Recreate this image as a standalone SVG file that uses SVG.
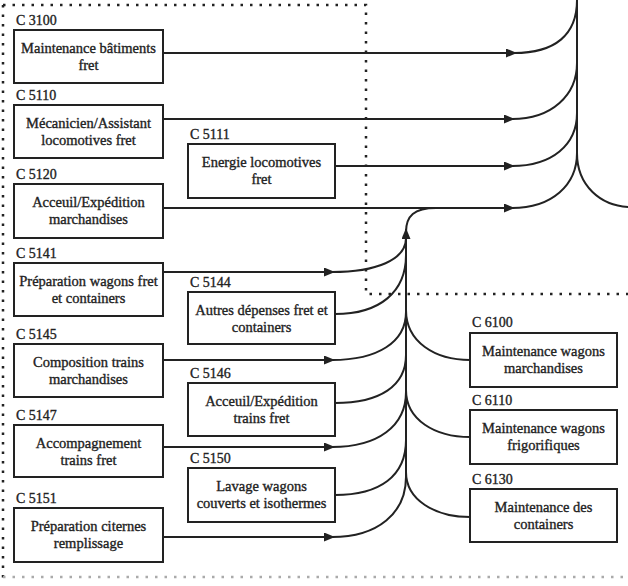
<svg xmlns="http://www.w3.org/2000/svg" width="628" height="586" viewBox="0 0 628 586">
<style>
.box{fill:#fff;stroke:#222;stroke-width:2}
.t{font-family:"Liberation Serif",serif;font-size:14.5px;fill:#222;stroke:#222;stroke-width:0.35;text-anchor:middle}
.lb{font-family:"Liberation Serif",serif;font-size:14px;fill:#222;stroke:#222;stroke-width:0.35}
.c{fill:none;stroke:#222;stroke-width:2}
.a{fill:none;stroke:#222;stroke-width:2;marker-end:url(#ah)}
.d{fill:none;stroke:#222;stroke-width:2.5;stroke-dasharray:2.5 7}
</style>
<defs>
<marker id="ah" markerUnits="userSpaceOnUse" markerWidth="11" markerHeight="9" refX="10" refY="4.5" orient="auto">
<path d="M0,0 L11,4.5 L0,9 z" fill="#222"/>
</marker>
</defs>
<rect width="628" height="586" fill="#fff"/>
<g id="boundary">
<path class="d" d="M3 5 L366 5 L366 294 L628 294"/>
<path class="d" d="M3 5 L3 580"/>
<path class="d" d="M3 577 L628 577" style="stroke:#aaa"/>
</g>
<g id="connectors">
<line class="a" x1="163" y1="53" x2="516" y2="53"/>
<line class="a" x1="163" y1="119" x2="514" y2="119"/>
<line class="a" x1="335" y1="166" x2="514" y2="166"/>
<line class="a" x1="163" y1="208" x2="514" y2="208"/>
<path class="c" d="M514 53 C555 53 577 35 577 0"/>
<path class="c" d="M512 119 C552 119 577 95 577 63"/>
<path class="c" d="M512 166 C552 166 577 145 577 113"/>
<path class="c" d="M512 208 C552 208 577 185 577 153"/>
<path class="c" d="M577 0 L577 153 C577 185 600 207 632 207"/>
<path class="c" d="M406 477 L406 232 C406 216 414 208 436 208"/>
<path class="a" d="M406 246 L406 229"/>
<line class="a" x1="163" y1="272" x2="334" y2="272"/>
<path class="c" d="M332 272 C376 272 406 260 406 238"/>
<path class="c" d="M335 314 C380 314 406 292 406 255"/>
<line class="a" x1="163" y1="360" x2="334" y2="360"/>
<path class="c" d="M332 360 C378 360 406 342 406 312"/>
<path class="c" d="M335 403 C380 403 406 386 406 355"/>
<line class="a" x1="163" y1="447" x2="334" y2="447"/>
<path class="c" d="M332 447 C378 447 406 426 406 392"/>
<path class="c" d="M335 495 C380 495 406 476 406 440"/>
<line class="a" x1="163" y1="537" x2="334" y2="537"/>
<path class="c" d="M332 537 C378 537 406 513 406 477"/>
<path class="c" d="M406 310 C406 342 435 360 470 360"/>
<path class="c" d="M406 390 C406 420 435 437 470 437"/>
<path class="c" d="M406 472 C406 500 435 517 470 517"/>
</g>
<g id="C3100"><text class="lb" x="16" y="25">C 3100</text><rect class="box" x="14" y="30" width="149" height="53"/><text class="t" x="88.5" y="53">Maintenance bâtiments</text><text class="t" x="88.5" y="70">fret</text></g>
<g id="C5110"><text class="lb" x="16" y="100">C 5110</text><rect class="box" x="14" y="105" width="149" height="53"/><text class="t" x="88.5" y="128">Mécanicien/Assistant</text><text class="t" x="88.5" y="145">locomotives fret</text></g>
<g id="C5120"><text class="lb" x="16" y="179">C 5120</text><rect class="box" x="14" y="184" width="149" height="54"/><text class="t" x="88.5" y="207">Acceuil/Expédition</text><text class="t" x="88.5" y="224">marchandises</text></g>
<g id="C5141"><text class="lb" x="16" y="258">C 5141</text><rect class="box" x="14" y="263" width="149" height="53"/><text class="t" x="88.5" y="286">Préparation wagons fret</text><text class="t" x="88.5" y="303">et containers</text></g>
<g id="C5145"><text class="lb" x="16" y="339">C 5145</text><rect class="box" x="14" y="344" width="149" height="53"/><text class="t" x="88.5" y="367">Composition trains</text><text class="t" x="88.5" y="384">marchandises</text></g>
<g id="C5147"><text class="lb" x="16" y="420">C 5147</text><rect class="box" x="14" y="425" width="149" height="52"/><text class="t" x="88.5" y="448">Accompagnement</text><text class="t" x="88.5" y="465">trains fret</text></g>
<g id="C5151"><text class="lb" x="16" y="503">C 5151</text><rect class="box" x="14" y="508" width="149" height="54"/><text class="t" x="88.5" y="531">Préparation citernes</text><text class="t" x="88.5" y="548">remplissage</text></g>
<g id="C5111"><text class="lb" x="190" y="139">C 5111</text><rect class="box" x="188" y="144" width="147" height="54"/><text class="t" x="261.5" y="167">Energie locomotives</text><text class="t" x="261.5" y="184">fret</text></g>
<g id="C5144"><text class="lb" x="190" y="287">C 5144</text><rect class="box" x="188" y="292" width="147" height="52"/><text class="t" x="261.5" y="315">Autres dépenses fret et</text><text class="t" x="261.5" y="332">containers</text></g>
<g id="C5146"><text class="lb" x="190" y="378">C 5146</text><rect class="box" x="188" y="383" width="147" height="53"/><text class="t" x="261.5" y="406">Acceuil/Expédition</text><text class="t" x="261.5" y="423">trains fret</text></g>
<g id="C5150"><text class="lb" x="190" y="463">C 5150</text><rect class="box" x="188" y="468" width="147" height="54"/><text class="t" x="261.5" y="491">Lavage wagons</text><text class="t" x="261.5" y="508">couverts et isothermes</text></g>
<g id="C6100"><text class="lb" x="472" y="327">C 6100</text><rect class="box" x="470" y="333" width="147" height="54"/><text class="t" x="543.5" y="356">Maintenance wagons</text><text class="t" x="543.5" y="373">marchandises</text></g>
<g id="C6110"><text class="lb" x="472" y="405">C 6110</text><rect class="box" x="470" y="410" width="147" height="54"/><text class="t" x="543.5" y="433">Maintenance wagons</text><text class="t" x="543.5" y="450">frigorifiques</text></g>
<g id="C6130"><text class="lb" x="472" y="484">C 6130</text><rect class="box" x="470" y="489" width="147" height="53"/><text class="t" x="543.5" y="512">Maintenance des</text><text class="t" x="543.5" y="529">containers</text></g>
</svg>
